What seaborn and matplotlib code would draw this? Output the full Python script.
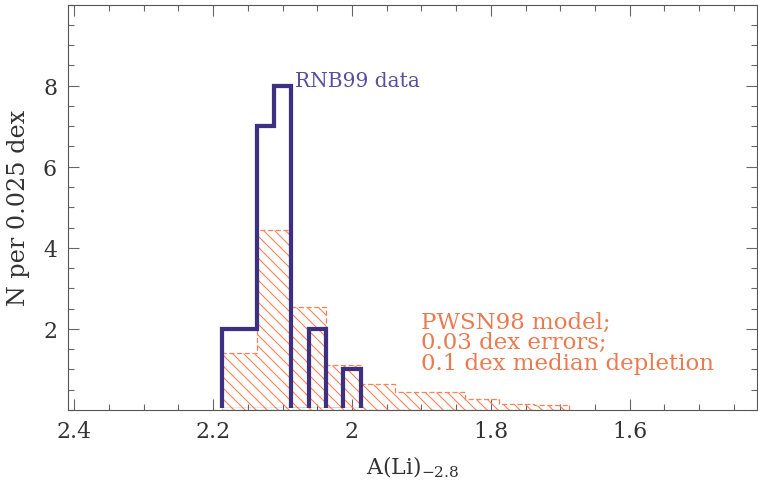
import numpy as np
import matplotlib
matplotlib.use("Agg")
import matplotlib.pyplot as plt
import seaborn as sns
from matplotlib.ticker import MultipleLocator, FuncFormatter
from matplotlib.transforms import Bbox, TransformedBbox, offset_copy

# Datos (A(Li) en dex, alturas en N por bin)
rnb99_centers = [2.175, 2.15, 2.125, 2.1, 2.075, 2.05, 2.025, 2.0]
rnb99_counts = [2, 2, 7, 8, 0, 2, 0, 1]
rnb99_edges = [2.1875, 2.1625, 2.1375, 2.1125, 2.0875, 2.0625, 2.0375, 2.0125, 1.9875]

pwsn98_centers = [2.1625, 2.1125, 2.0625, 2.0125, 1.9625, 1.9125, 1.8625, 1.8125, 1.7625, 1.7125]
pwsn98_heights = [1.4, 4.45, 2.55, 1.1, 0.64, 0.44, 0.44, 0.27, 0.15, 0.12]
pwsn98_edges = [2.1875, 2.1375, 2.0875, 2.0375, 1.9875, 1.9375, 1.8875, 1.8375, 1.7875, 1.7375, 1.6875]

x_ticks = [2.4, 2.2, 2.0, 1.8, 1.6]
y_ticks = [2, 4, 6, 8]
model_lines = ["PWSN98 model;", "0.03 dex errors;", "0.1 dex median depletion"]

blue = "#3d3080"
blue_text = "#5a4ea0"
orange = "#f4845a"
orange_text = "#ec7a50"

sns.set_style("ticks")
plt.rcParams['font.family'] = ['DejaVu Serif']
plt.rcParams['mathtext.fontset'] = 'dejavuserif'
plt.rcParams['hatch.color'] = orange
plt.rcParams['hatch.linewidth'] = 0.6

DPI = 132
fig = plt.figure(figsize=(758.4 / DPI, 482.4 / DPI), dpi=DPI)
ax = fig.add_axes([68 / 758, 1 - 410 / 482, 689 / 758, 405 / 482])

# Modelo PWSN98: histograma sombreado
sns.histplot(x=np.array(sorted(pwsn98_centers)), weights=np.array(pwsn98_heights[::-1]),
             bins=sorted(pwsn98_edges), element="step", fill=True, ax=ax,
             color=orange, facecolor="none", edgecolor=orange, hatch="\\\\\\\\",
             linestyle=(0, (4, 2)), linewidth=0.7, zorder=1)

# Datos RNB99: contorno grueso
sns.histplot(x=np.array(sorted(rnb99_centers)), weights=np.array(rnb99_counts[::-1]),
             bins=sorted(rnb99_edges), element="step", fill=True, ax=ax,
             color=blue, facecolor="none", edgecolor=blue, linewidth=2.3,
             joinstyle="miter", zorder=2)
# ocultar el tramo del contorno que corre sobre la linea base
clip = TransformedBbox(Bbox.unit(), offset_copy(ax.transAxes, fig=fig, y=1.2, units="points"))
ax.collections[-1].set_clip_box(clip)

ax.set_xlim(2.409, 1.416)
ax.set_ylim(0, 10)

ax.set_xticks(x_ticks)
ax.set_yticks(y_ticks)
ax.xaxis.set_minor_locator(MultipleLocator(0.05))
ax.yaxis.set_minor_locator(MultipleLocator(0.5))
ax.xaxis.set_major_formatter(FuncFormatter(lambda v, p: f"{v:g}"))
ax.yaxis.set_major_formatter(FuncFormatter(lambda v, p: f"{v:g}"))
ax.tick_params(which="both", direction="in", top=True, right=True,
               color="#666666", width=0.6, labelsize=12, labelcolor="#333333")
ax.tick_params(which="major", length=6, pad=6)
ax.tick_params(which="minor", length=3.3)

for s in ax.spines.values():
    s.set_color("#555555")
    s.set_linewidth(0.6)
    s.set_zorder(3)

ax.set_xlabel("A(Li)$_{-2.8}$", fontsize=12, color="#333333", labelpad=6)
ax.set_ylabel("N per 0.025 dex", fontsize=13, color="#333333", labelpad=7)

ax.text(2.0824, 7.98, "RNB99 data", color=blue_text, fontsize=11, va="baseline", ha="left")
for i, line in enumerate(model_lines):
    ax.text(1.901, 2.02 - i * 0.51, line, color=orange_text, fontsize=12.5,
            va="baseline", ha="left")

fig.savefig("out.png", dpi=DPI)
